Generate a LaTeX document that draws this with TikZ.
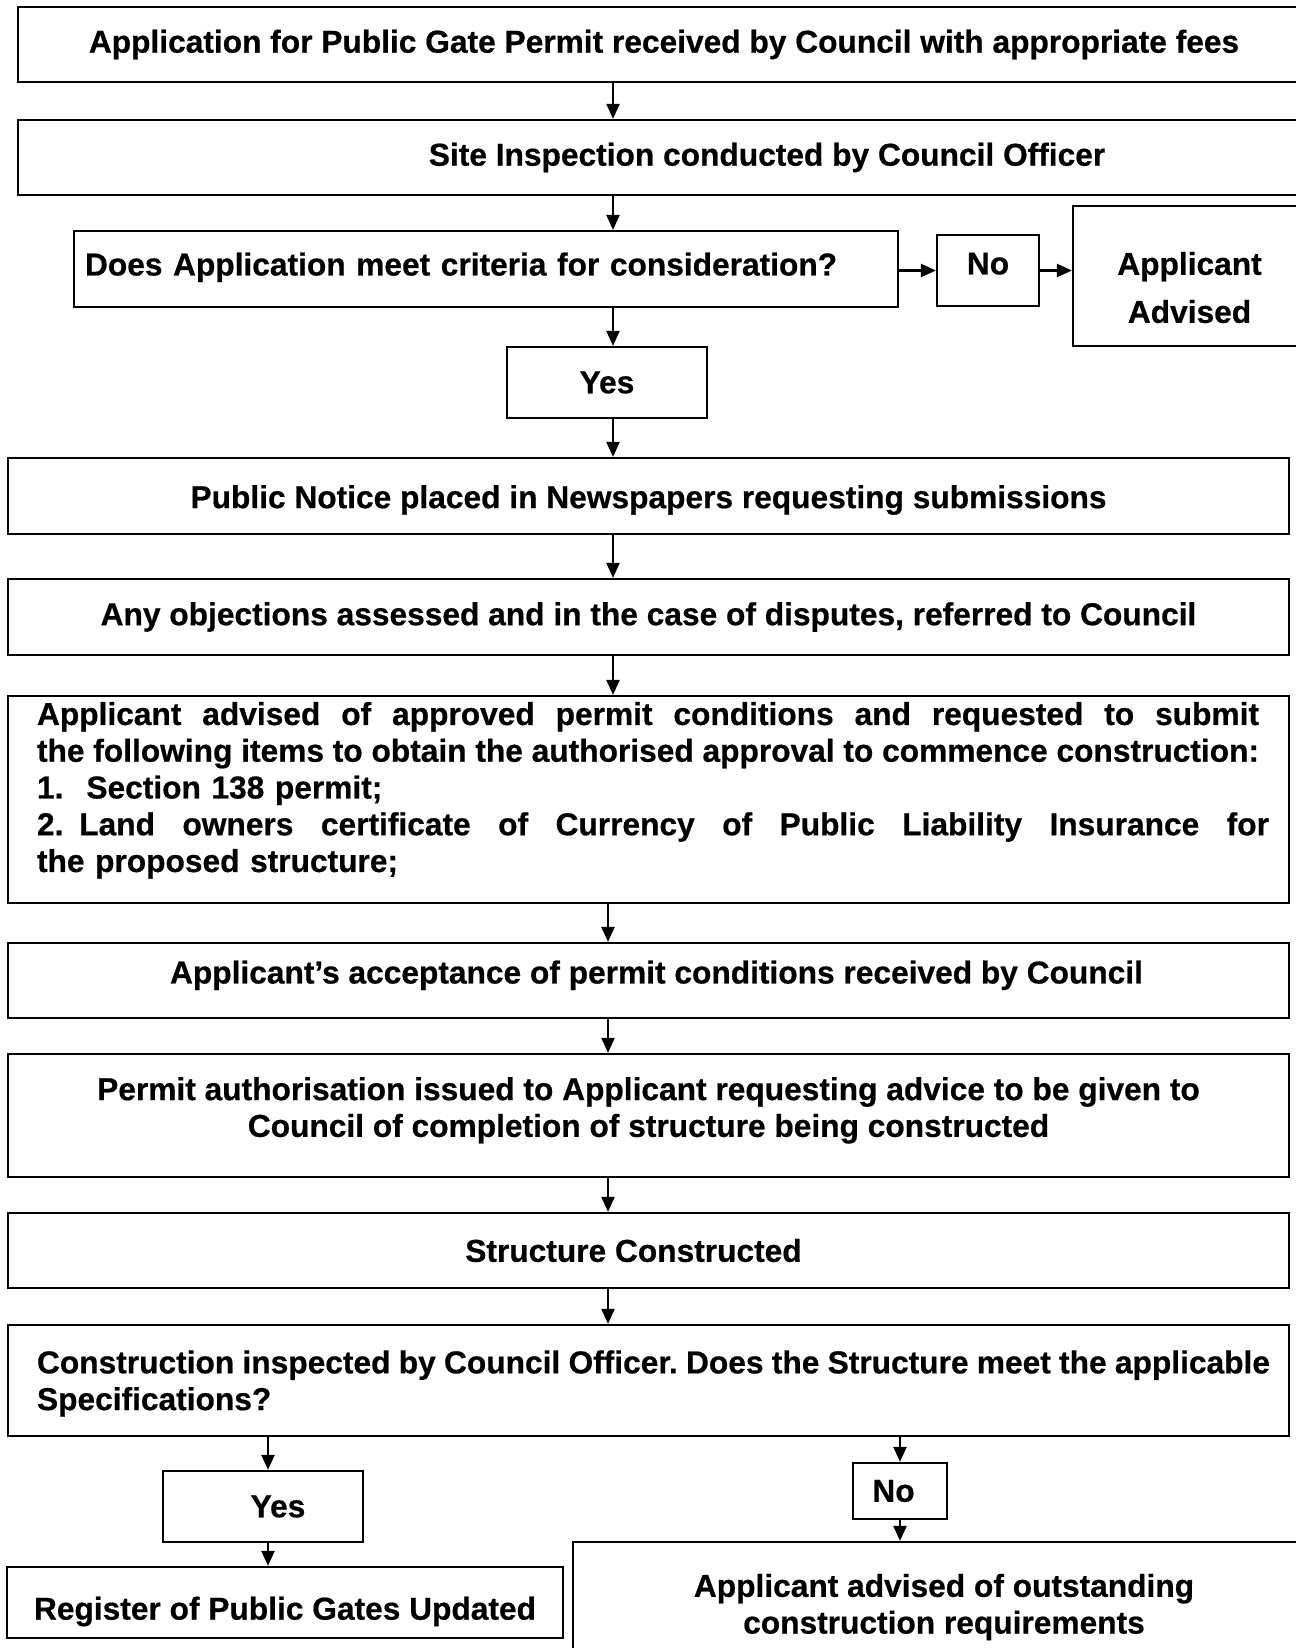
\documentclass[tikz,border=0pt]{standalone}
\usepackage{fontspec}
\setmainfont{Liberation Sans}[BoldFeatures={FakeBold=0.6}]
\usetikzlibrary{arrows.meta}
\newcommand{\strutup}[1]{\rule{0pt}{#1}}
\newcommand{\strutdn}[1]{\rule[-#1]{0pt}{#1}}
\newcommand{\justline}[2]{\makebox[#1][s]{\spaceskip=0.278em plus 1em minus 0.08em\relax #2}}
\begin{document}
\begin{tikzpicture}[x=1pt, y=-1pt, line width=2.2pt, >={Triangle[width=13pt,length=15pt]},
    stepbox/.style={draw, line width=2.2pt, inner sep=0pt, font=\bfseries\fontsize{31.7}{36.75}\selectfont}]
\useasboundingbox (0,0) rectangle (1295,1648);
% top of the flow
\node[stepbox, minimum width=1292pt, minimum height=75pt] (app) at (664,44.5) {Application for Public Gate Permit received by Council with appropriate fees};
\node[stepbox, minimum width=1292pt, minimum height=75pt] (site) at (664,157.5) {\hspace*{206pt}Site Inspection conducted by Council Officer};
\node[stepbox, text width=802pt, inner xsep=11pt, align=left, minimum height=76pt] (crit) at (486,269) {Does Application meet criteria for consideration?\strutdn{10pt}};
\node[stepbox, minimum width=102pt, minimum height=71pt] (noA) at (988,270.5) {No\strutdn{14pt}};
\node[stepbox, minimum width=233pt, minimum height=140pt, align=center, font=\bfseries\fontsize{31.7}{48}\selectfont] (told) at (1189.5,276) {\strutup{46pt}Applicant\\Advised};
\node[stepbox, minimum width=200pt, minimum height=71pt] (yesA) at (607,382.5) {Yes};
% public notice and permit
\node[stepbox, minimum width=1281pt, minimum height=76pt] (notice) at (648.5,496) {\strutup{31pt}Public Notice placed in Newspapers requesting submissions};
\node[stepbox, minimum width=1281pt, minimum height=76pt] (objections) at (648.5,617) {Any objections assessed and in the case of disputes, referred to Council};
\node[stepbox, text width=1223pt, inner xsep=29pt, align=left, minimum height=207pt] (items) at (648.5,799.5) {\justline{1222pt}{Applicant advised of approved permit conditions and requested to submit}\\\justline{1222pt}{the following items to obtain the authorised approval to commence construction:}\\1.\hspace{23pt}Section 138 permit;\\\justline{1232pt}{2. Land owners certificate of Currency of Public Liability Insurance for}\\the proposed structure;\strutdn{25pt}};
\node[stepbox, minimum width=1281pt, minimum height=75pt] (accept) at (648.5,980.5) {\hspace*{16pt}Applicant’s acceptance of permit conditions received by Council\strutdn{17pt}};
\node[stepbox, minimum width=1281pt, minimum height=123pt, align=center] (permit) at (648.5,1115.5) {Permit authorisation issued to Applicant requesting advice to be given to\\Council of completion of structure being constructed\strutdn{17pt}};
\node[stepbox, minimum width=1281pt, minimum height=75pt] (built) at (648.5,1250.5) {Structure Constructed\hspace*{30pt}};
\node[stepbox, text width=1223pt, inner xsep=29pt, align=left, minimum height=111pt] (inspect) at (648.5,1380.5) {\strutup{29pt}\makebox[1233pt][s]{\spaceskip=0.2em plus 0.2em minus 0.05em\relax Construction inspected by Council Officer.\ Does the Structure meet the applicable}\\Specifications?};
% outcome of the inspection
\node[stepbox, minimum width=200pt, minimum height=71pt] (yesB) at (263,1506.5) {\hspace*{30pt}Yes};
\node[stepbox, minimum width=94pt, minimum height=56pt] (noB) at (900,1491) {No\hspace*{13pt}};
\node[stepbox, minimum width=556pt, minimum height=71pt] (register) at (285,1602.5) {\strutup{41pt}Register of Public Gates Updated};
\node[stepbox, minimum width=742pt, minimum height=130pt, align=center] (outstanding) at (944,1607) {Applicant advised of outstanding\\construction requirements};

\coordinate (spineA) at (613,0);
\coordinate (spineB) at (608,0);
\coordinate (yesline) at (268,0);
\coordinate (noline) at (900,0);
\foreach \from/\to in {app/site, site/crit, crit/yesA, yesA/notice, notice/objections, objections/items}
  \draw[->] (\from.south -| spineA) -- (\to.north -| spineA);
\foreach \from/\to in {items/accept, accept/permit, permit/built, built/inspect}
  \draw[->] (\from.south -| spineB) -- (\to.north -| spineB);
\draw[->] (crit.east |- noA.west) -- (noA.west);
\draw[->] (noA.east) -- (noA.east -| told.west);
\draw[->] (inspect.south -| yesline) -- (yesB.north -| yesline);
\draw[->] (yesB.south -| yesline) -- (register.north -| yesline);
\draw[->] (inspect.south -| noline) -- (noB.north -| noline);
\draw[->] (noB.south -| noline) -- (outstanding.north -| noline);
\end{tikzpicture}
\end{document}
